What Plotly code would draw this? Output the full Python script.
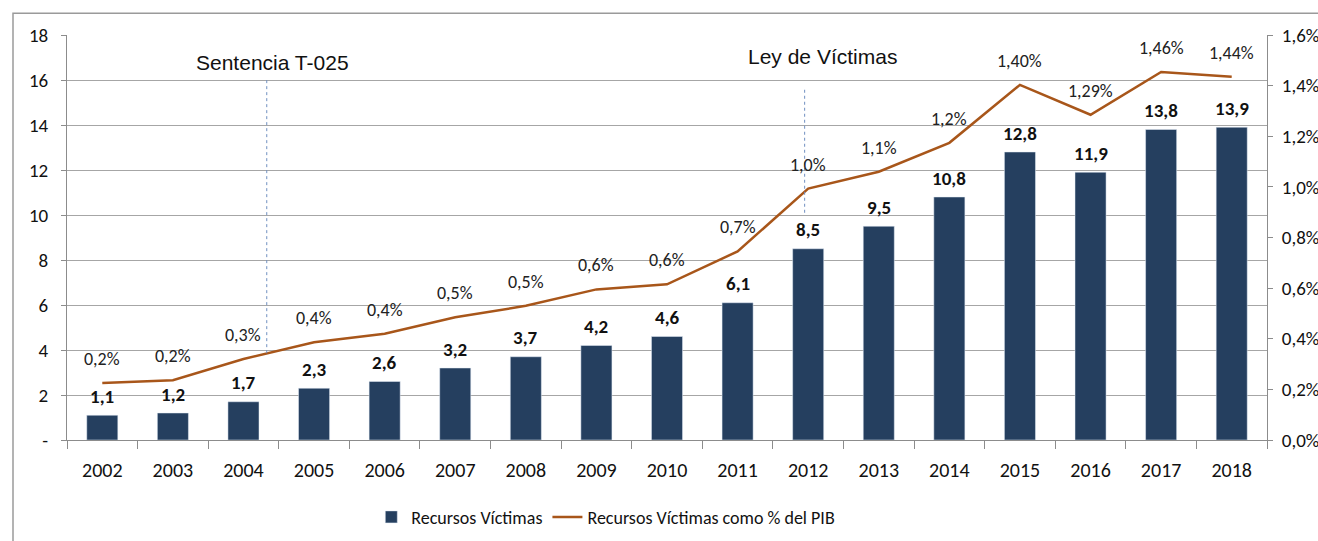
import plotly.graph_objects as go

years = list(range(2002, 2019))
recursos = [1.1, 1.2, 1.7, 2.3, 2.6, 3.2, 3.7, 4.2, 4.6, 6.1, 8.5, 9.5, 10.8, 12.8, 11.9, 13.8, 13.9]
recursos_labels = ["1,1", "1,2", "1,7", "2,3", "2,6", "3,2", "3,7", "4,2", "4,6", "6,1", "8,5", "9,5", "10,8", "12,8", "11,9", "13,8", "13,9"]
pct_pib = [0.225, 0.236, 0.32, 0.386, 0.42, 0.485, 0.53, 0.595, 0.615, 0.745, 0.993, 1.06, 1.174, 1.403, 1.285, 1.454, 1.435]
pct_labels = ["0,2%", "0,2%", "0,3%", "0,4%", "0,4%", "0,5%", "0,5%", "0,6%", "0,6%", "0,7%", "1,0%", "1,1%", "1,2%", "1,40%", "1,29%", "1,46%", "1,44%"]
left_ticks = [0, 2, 4, 6, 8, 10, 12, 14, 16, 18]
left_ticktext = ["-", "2", "4", "6", "8", "10", "12", "14", "16", "18"]
right_ticks = [0, 0.2, 0.4, 0.6, 0.8, 1.0, 1.2, 1.4, 1.6]
right_ticktext = ["0,0%", "0,2%", "0,4%", "0,6%", "0,8%", "1,0%", "1,2%", "1,4%", "1,6%"]

events = ["Sentencia T-025", "Ley de Víctimas"]
event_x = [2004.33, 2011.95]
event_y0 = [3.86, 10.1]
event_y1 = [16.05, 15.6]
event_label_x = [2004.41, 2012.2]
event_label_y = [16.8, 17.05]

BAR = "#253F5F"
LINE = "#A8561A"
FONT = "Carlito, Lato, sans-serif"

fig = go.Figure()
fig.add_trace(go.Bar(
    x=years, y=recursos, name="Recursos Víctimas", marker_color=BAR,
    width=0.44, yaxis="y",
))
fig.add_trace(go.Scatter(
    x=years, y=pct_pib, name="Recursos Víctimas como % del PIB",
    mode="lines", line=dict(color=LINE, width=2.5), yaxis="y2",
))
for xv, yv, t in zip(years, recursos, recursos_labels):
    fig.add_annotation(x=xv, y=yv, xref="x", yref="y", text=t, showarrow=False,
                       yshift=19, font=dict(family=FONT, size=19, color="#111", weight="bold"))
for xv, yv, t in zip(years, pct_pib, pct_labels):
    fig.add_annotation(x=xv, y=yv, xref="x", yref="y2", text=t, showarrow=False,
                       yshift=24, font=dict(family=FONT, size=18, color="#222"))

for ex, y0, y1 in zip(event_x, event_y0, event_y1):
    fig.add_shape(type="line", x0=ex, x1=ex, y0=y0, y1=y1, xref="x", yref="y",
                  line=dict(color="#6F8FC0", width=1, dash="dot"))
for t, lx, ly in zip(events, event_label_x, event_label_y):
    fig.add_annotation(x=lx, y=ly, xref="x", yref="y", text=t, showarrow=False,
                       font=dict(family="Liberation Sans, Arial", size=21, color="#111"))

# outer frame
fig.add_shape(type="rect", xref="paper", yref="paper", x0=-0.045, x1=1.12, y0=-0.5, y1=1.054,
              line=dict(color="#9A9A9A", width=1.5), layer="below")

fig.update_layout(
    width=1318, height=541,
    margin=dict(l=67, r=51, t=35, b=101),
    paper_bgcolor="white", plot_bgcolor="white",
    showlegend=True,
    legend=dict(orientation="h", xref="paper", x=0.449, xanchor="center",
                yref="container", y=0.044, yanchor="middle",
                font=dict(family=FONT, size=18, color="#111"), traceorder="normal",
                bgcolor="rgba(0,0,0,0)"),
    xaxis=dict(range=[2001.5, 2018.5], tickmode="array", tickvals=years,
               ticktext=[str(y) for y in years], ticks="", showgrid=False,
               showline=True, linecolor="#8C8C8C", linewidth=1, automargin=False,
               tickfont=dict(family=FONT, size=20, color="#111"), ticklabelstandoff=12,
               minor=dict(tickmode="linear", tick0=2001.5, dtick=1, ticks="outside",
                          ticklen=8, tickcolor="#8C8C8C", showgrid=False),
               zeroline=False),
    yaxis=dict(range=[0, 18], tickmode="array", tickvals=left_ticks, ticktext=left_ticktext,
               showgrid=True, gridcolor="#A6A6A6", gridwidth=1, automargin=False,
               showline=True, linecolor="#8C8C8C", linewidth=1,
               ticks="outside", ticklen=5, tickcolor="#8C8C8C", ticklabelstandoff=9,
               tickfont=dict(family=FONT, size=19, color="#111"), zeroline=False),
    yaxis2=dict(range=[0, 1.6], overlaying="y", side="right", tickmode="array",
                tickvals=right_ticks, ticktext=right_ticktext, showgrid=False,
                showline=True, linecolor="#8C8C8C", linewidth=1, automargin=False,
                ticks="outside", ticklen=5, tickcolor="#8C8C8C", ticklabelstandoff=5,
                tickfont=dict(family=FONT, size=19, color="#111"), zeroline=False),
)

fig.write_html("out.html", config={"displayModeBar": False},
               post_script="document.body.style.margin='0';document.body.style.overflow='hidden';")
